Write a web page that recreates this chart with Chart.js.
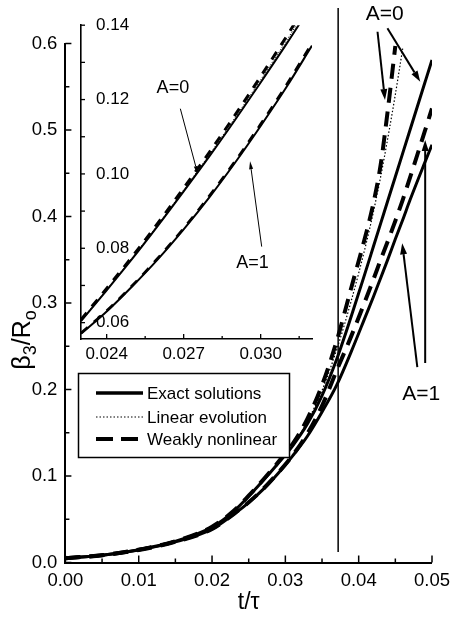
<!DOCTYPE html>
<html><head><meta charset="utf-8">
<script src="https://cdn.jsdelivr.net/npm/chart.js@4.4.1/dist/chart.umd.min.js"></script>
<style>
html,body{margin:0;padding:0;background:#fff;}
#wrap{position:relative;width:457px;height:618px;overflow:hidden;}
canvas{position:absolute;left:0;top:0;}
</style></head>
<body><div id="wrap"><canvas id="main" width="457" height="618"></canvas><canvas id="inset" width="457" height="618"></canvas></div>
<script>
// ---------- data: main plot ----------
const tMain     = [0, 0.005, 0.01, 0.015, 0.02, 0.023, 0.025, 0.027, 0.029, 0.031, 0.033, 0.035, 0.037, 0.039, 0.041, 0.042, 0.043, 0.044, 0.045, 0.046, 0.047, 0.049, 0.05];
const exactA0   = [0.005, 0.0085, 0.0148, 0.0245, 0.041, 0.0595, 0.0765, 0.0950, 0.1145, 0.1349, 0.160, 0.193, 0.235, 0.285, 0.338, 0.365, 0.392, 0.419, 0.446, 0.473, 0.500, 0.554, 0.581];
const exactA1   = [0.005, 0.0084, 0.0145, 0.0238, 0.0385, 0.056, 0.0693, 0.0848, 0.1030, 0.1233, 0.146, 0.174, 0.205, 0.244, 0.286, 0.307, 0.329, 0.351, 0.374, 0.396, 0.419, 0.462, 0.483];
const linearEv  = [0.005, 0.0085, 0.0148, 0.0246, 0.0412, 0.0597, 0.0768, 0.0955, 0.115, 0.136, 0.163, 0.199, 0.246, 0.303, 0.368, 0.405, 0.446, 0.492, 0.541, 0.594, null, null, null];
const weakA0    = [0.005, 0.0085, 0.0149, 0.0247, 0.0414, 0.0600, 0.0772, 0.096, 0.1158, 0.1372, 0.166, 0.205, 0.256, 0.318, 0.380, 0.415, 0.460, 0.525, 0.597, null, null, null, null];
const weakA1    = [0.005, 0.0084, 0.0145, 0.0239, 0.0387, 0.0563, 0.0697, 0.0853, 0.1036, 0.124, 0.149, 0.181, 0.222, 0.262, 0.305, 0.327, 0.350, 0.372, 0.395, 0.419, 0.445, 0.498, 0.525];
const markerT   = 0.0372;
const xTickVals   = [0, 0.01, 0.02, 0.03, 0.04, 0.05];
const xTickLabels = ['0.00', '0.01', '0.02', '0.03', '0.04', '0.05'];
const xMinorVals  = [0.005, 0.015, 0.025, 0.035, 0.045];
const yTickVals   = [0, 0.1, 0.2, 0.3, 0.4, 0.5, 0.6];
const yTickLabels = ['0.0', '0.1', '0.2', '0.3', '0.4', '0.5', '0.6'];
const yMinorVals  = [0.05, 0.15, 0.25, 0.35, 0.45, 0.55];
const legendLabels = ['Exact solutions', 'Linear evolution', 'Weakly nonlinear'];

// ---------- data: inset ----------
const tInset      = [0.023, 0.024, 0.025, 0.026, 0.027, 0.028, 0.029, 0.030, 0.031, 0.032];
const insetA0     = [0.0604, 0.0687, 0.0772, 0.0861, 0.0953, 0.1047, 0.1145, 0.1246, 0.1349, 0.1456];
const insetA0lin  = [0.0606, 0.0689, 0.0775, 0.0864, 0.0957, 0.1052, 0.1151, 0.1253, 0.1358, 0.1466];
const insetA0weak = [0.0608, 0.0692, 0.0778, 0.0868, 0.0962, 0.1058, 0.1158, 0.1262, 0.1369, 0.1480];
const insetA1     = [0.0570, 0.0630, 0.0698, 0.0771, 0.0851, 0.0937, 0.1030, 0.1129, 0.1233, 0.1345];
const insetA1weak = [0.0572, 0.0632, 0.0700, 0.0774, 0.0854, 0.0941, 0.1034, 0.1134, 0.1239, 0.1352];
const ixTickVals   = [0.024, 0.027, 0.030];
const ixTickLabels = ['0.024', '0.027', '0.030'];
const ixMinorVals  = [0.0255, 0.0285, 0.0315];
const iyTickVals   = [0.06, 0.08, 0.10, 0.12, 0.14];
const iyTickLabels = ['0.06', '0.08', '0.10', '0.12', '0.14'];
const iyMinorVals  = [0.07, 0.09, 0.11, 0.13];

const FAM = '"Liberation Sans", Arial, Helvetica, sans-serif';
function pts(xs, ys){ const o=[]; xs.forEach((x,i)=>{ if(ys[i]!==null) o.push({x:x,y:ys[i]}); }); return o; }

function arrow(ctx, x1, y1, x2, y2, lw, hl, hw){
  ctx.save(); ctx.strokeStyle='#000'; ctx.fillStyle='#000'; ctx.lineWidth=lw; ctx.setLineDash([]);
  const a=Math.atan2(y2-y1,x2-x1);
  const bx=x2-hl*Math.cos(a), by=y2-hl*Math.sin(a);
  ctx.beginPath(); ctx.moveTo(x1,y1); ctx.lineTo(bx,by); ctx.stroke();
  ctx.beginPath(); ctx.moveTo(x2,y2);
  ctx.lineTo(bx+hw/2*Math.sin(a), by-hw/2*Math.cos(a));
  ctx.lineTo(bx-hw/2*Math.sin(a), by+hw/2*Math.cos(a));
  ctx.closePath(); ctx.fill(); ctx.restore();
}
function inTicks(ctx, chart, xs, len, isX, lw){
  const a=chart.chartArea; ctx.save(); ctx.strokeStyle='#000'; ctx.lineWidth=lw; ctx.setLineDash([]);
  xs.forEach(v=>{
    ctx.beginPath();
    if(isX){ const p=chart.scales.x.getPixelForValue(v); ctx.moveTo(p,a.bottom); ctx.lineTo(p,a.bottom-len); }
    else { const p=chart.scales.y.getPixelForValue(v); ctx.moveTo(a.left,p); ctx.lineTo(a.left+len,p); }
    ctx.stroke();
  });
  ctx.restore();
}

const mainDecor = {
  id:'mainDecor',
  afterDraw(chart){
    const ctx=chart.ctx, X=chart.scales.x, Y=chart.scales.y;
    inTicks(ctx, chart, xTickVals, 7, true, 1.5);
    inTicks(ctx, chart, xMinorVals, 4, true, 1.5);
    inTicks(ctx, chart, yTickVals, 6, false, 1.5);
    inTicks(ctx, chart, yMinorVals, 4, false, 1.5);
    // legend
    ctx.save();
    ctx.fillStyle='#fff'; ctx.fillRect(78,373,212,85);
    ctx.strokeStyle='#000'; ctx.lineWidth=1.5; ctx.strokeRect(78.5,373.5,211,84);
    const ly=[393,417,439];
    ctx.beginPath(); ctx.lineWidth=3.5; ctx.moveTo(96,ly[0]); ctx.lineTo(143,ly[0]); ctx.stroke();
    ctx.beginPath(); ctx.lineWidth=1.2; ctx.setLineDash([1.5,2]); ctx.moveTo(96,ly[1]); ctx.lineTo(143,ly[1]); ctx.stroke();
    ctx.beginPath(); ctx.lineWidth=4; ctx.setLineDash([17,8]); ctx.moveTo(96,ly[2]); ctx.lineTo(143,ly[2]); ctx.stroke();
    ctx.setLineDash([]);
    ctx.fillStyle='#000'; ctx.font='17px '+FAM; ctx.textBaseline='middle'; ctx.textAlign='left';
    legendLabels.forEach((t,i)=>ctx.fillText(t,147,ly[i]+1));
    ctx.restore();
    // y title  beta_3 / R_o
    ctx.save(); ctx.translate(22,340); ctx.rotate(-Math.PI/2); ctx.fillStyle='#000'; ctx.textBaseline='alphabetic'; ctx.textAlign='left';
    const big='25px '+FAM, small='18px '+FAM;
    const parts=[['β',big,0],['3',small,6],['/R',big,0],['o',small,6]];
    let tw=0; parts.forEach(p=>{ctx.font=p[1]; tw+=ctx.measureText(p[0]).width;});
    let cx=-tw/2; parts.forEach(p=>{ctx.font=p[1]; ctx.fillText(p[0],cx,8+p[2]); cx+=ctx.measureText(p[0]).width;});
    ctx.restore();
    // annotations (data coordinates)
    const px=v=>X.getPixelForValue(v), py=v=>Y.getPixelForValue(v);
    ctx.save(); ctx.fillStyle='#000'; ctx.font='21px '+FAM; ctx.textAlign='center'; ctx.textBaseline='middle';
    ctx.fillText('A=0', px(0.04355), py(0.6335));
    ctx.fillText('A=1', px(0.04853), py(0.1948));
    ctx.restore();
    arrow(ctx, px(0.04257), py(0.6136), px(0.04359), py(0.5347), 2, 11, 7);
    arrow(ctx, px(0.04392), py(0.6176), px(0.0484), py(0.5558), 2, 11, 7);
    arrow(ctx, px(0.04907), py(0.2306), px(0.04907), py(0.4884), 2, 11, 7);
    arrow(ctx, px(0.048), py(0.226), px(0.04594), py(0.369), 2, 11, 7);
  }
};

const tickFont = {family:FAM, size:18.5};
new Chart(document.getElementById('main'), {
  type:'line',
  data:{datasets:[
    {label:'Exact A=0', data:pts(tMain, exactA0), borderColor:'#000', borderWidth:3},
    {label:'Exact A=1', data:pts(tMain, exactA1), borderColor:'#000', borderWidth:3},
    {label:'Linear evolution', data:pts(tMain, linearEv), borderColor:'#000', borderWidth:1.2, borderDash:[1.5,2]},
    {label:'Weakly nonlinear A=0', data:pts(tMain, weakA0), borderColor:'#000', borderWidth:4, borderDash:[15,9]},
    {label:'Weakly nonlinear A=1', data:pts(tMain, weakA1), borderColor:'#000', borderWidth:4, borderDash:[15,9]},
    {label:'marker', data:[{x:markerT,y:0.012},{x:markerT,y:0.641}], borderColor:'#000', borderWidth:1.5, clip:false}
  ]},
  options:{
    responsive:false, animation:false, devicePixelRatio:1, events:[],
    layout:{padding:{left:0,right:20,top:43.5,bottom:0}},
    elements:{point:{radius:0}, line:{cubicInterpolationMode:'monotone', fill:false}},
    plugins:{legend:{display:false}, tooltip:{enabled:false}},
    scales:{
      x:{type:'linear', min:0, max:0.05,
         afterBuildTicks:s=>{s.ticks=xTickVals.map(v=>({value:v}));},
         afterFit:s=>{s.height=55.5;},
         grid:{display:false, drawTicks:false}, border:{display:true,color:'#000',width:2},
         ticks:{color:'#000', font:tickFont, padding:7, maxRotation:0, autoSkip:false, callback:(v,i)=>xTickLabels[i]},
         title:{display:true, text:'t/τ', color:'#000', font:{family:FAM,size:23}, padding:{top:0,bottom:2}}},
      y:{type:'linear', min:0, max:0.6,
         afterBuildTicks:s=>{s.ticks=yTickVals.map(v=>({value:v}));},
         afterFit:s=>{s.width=65.4;},
         grid:{display:false, drawTicks:false}, border:{display:true,color:'#000',width:2},
         ticks:{color:'#000', font:tickFont, padding:8, autoSkip:false, callback:(v,i)=>yTickLabels[i]}}
    }
  },
  plugins:[mainDecor]
});

// ---------- inset ----------
const insetDecor = {
  id:'insetDecor',
  afterDraw(chart){
    const ctx=chart.ctx, X=chart.scales.x, Y=chart.scales.y;
    inTicks(ctx, chart, ixTickVals, 5, true, 1.3);
    inTicks(ctx, chart, ixMinorVals, 3, true, 1.3);
    inTicks(ctx, chart, iyTickVals, 4, false, 1.3);
    inTicks(ctx, chart, iyMinorVals, 4, false, 1.3);
    const px=v=>X.getPixelForValue(v), py=v=>Y.getPixelForValue(v);
    ctx.save(); ctx.fillStyle='#000'; ctx.font='18px '+FAM; ctx.textAlign='center'; ctx.textBaseline='middle';
    ctx.fillText('A=0', px(0.02658), py(0.12323));
    ctx.fillText('A=1', px(0.029683), py(0.07603));
    ctx.restore();
    arrow(ctx, px(0.02687), py(0.11754), px(0.02755), py(0.1000), 1, 8, 4);
    arrow(ctx, px(0.03004), py(0.08045), px(0.029586), py(0.10342), 1, 8, 4);
  }
};
const iFont = {family:FAM, size:17};
new Chart(document.getElementById('inset'), {
  type:'line',
  data:{datasets:[
    {label:'Exact A=0', data:pts(tInset, insetA0), borderColor:'#000', borderWidth:2},
    {label:'Linear A=0', data:pts(tInset, insetA0lin), borderColor:'#000', borderWidth:1, borderDash:[1.2,1.8]},
    {label:'Weakly nonlinear A=0', data:pts(tInset, insetA0weak), borderColor:'#000', borderWidth:3, borderDash:[9,8]},
    {label:'Exact A=1', data:pts(tInset, insetA1), borderColor:'#000', borderWidth:2},
    {label:'Weakly nonlinear A=1', data:pts(tInset, insetA1weak), borderColor:'#000', borderWidth:2.6, borderDash:[9,8]}
  ]},
  options:{
    responsive:false, animation:false, devicePixelRatio:1, events:[],
    layout:{padding:{left:0,right:145,top:20,bottom:0}},
    elements:{point:{radius:0}, line:{cubicInterpolationMode:'monotone', fill:false}},
    plugins:{legend:{display:false}, tooltip:{enabled:false}},
    scales:{
      x:{type:'linear', min:0.023, max:0.032,
         afterBuildTicks:s=>{s.ticks=ixTickVals.map(v=>({value:v}));},
         afterFit:s=>{s.height=279;},
         grid:{display:false, drawTicks:false}, border:{display:true,color:'#000',width:1.6},
         ticks:{color:'#000', font:iFont, padding:5, maxRotation:0, autoSkip:false, callback:(v,i)=>ixTickLabels[i]}},
      y:{type:'linear', min:0.0556, max:0.14,
         afterBuildTicks:s=>{s.ticks=iyTickVals.map(v=>({value:v}));},
         afterFit:s=>{s.width=81;},
         grid:{display:false, drawTicks:false}, border:{display:true,color:'#000',width:1.6},
         ticks:{color:'#000', font:iFont, padding:15, mirror:true, autoSkip:false, callback:(v,i)=>iyTickLabels[i]}}
    }
  },
  plugins:[insetDecor]
});
</script></body></html>
